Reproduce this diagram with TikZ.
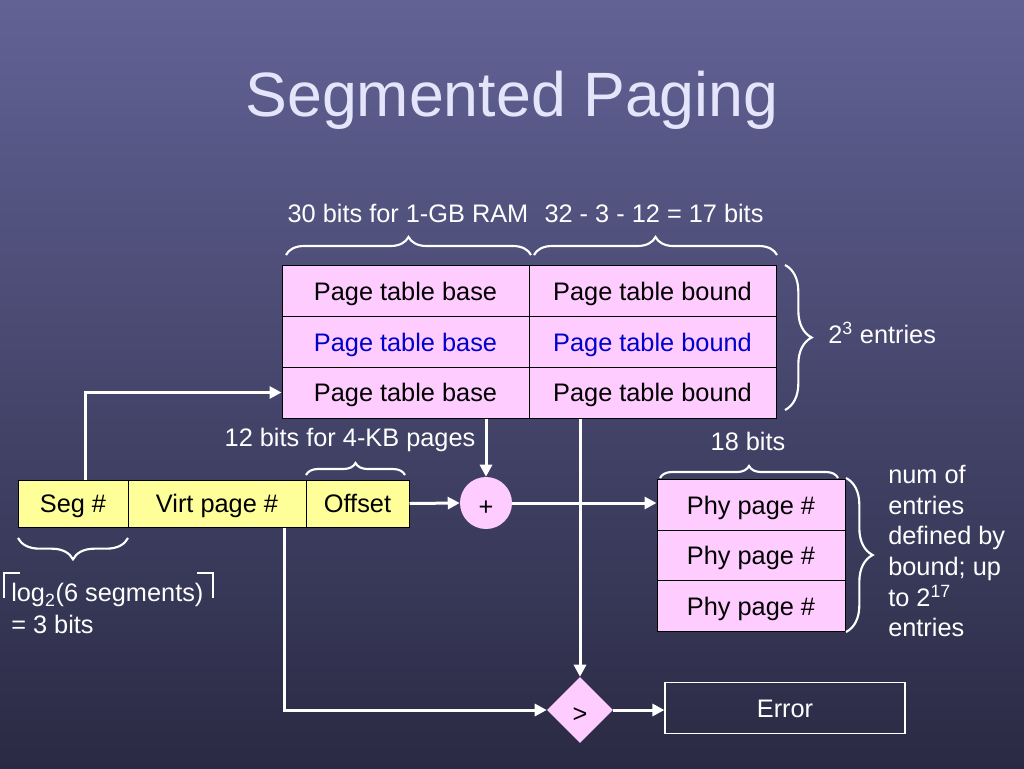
\documentclass[tikz,border=0pt]{standalone}
\usepackage{fontspec}
\setmainfont{Liberation Sans}
\usetikzlibrary{arrows.meta,shapes.geometric,decorations.pathreplacing,calc}

\definecolor{pinkc}{RGB}{255,204,255}
\definecolor{yellowc}{RGB}{255,255,153}
\definecolor{bgtop}{RGB}{98,98,150}
\definecolor{bgbot}{RGB}{42,42,68}
\definecolor{titlec}{RGB}{228,228,250}
\definecolor{bluec}{RGB}{0,0,204}

\begin{document}
\begin{tikzpicture}[x=0.75pt,y=-0.75pt,
  font=\fontsize{19}{23}\selectfont,
  cell/.style={draw=black, line width=0.75pt, fill=pinkc, inner sep=0pt,
    minimum width=185.25pt, minimum height=38.25pt, text height=17.5pt, text depth=4pt},
  addr/.style={draw=black, line width=0.75pt, fill=yellowc, inner sep=0pt,
    minimum height=35.25pt, text height=17.5pt, text depth=4pt},
  phy/.style={draw=black, line width=0.75pt, fill=pinkc, inner sep=0pt,
    minimum width=141pt, minimum height=37.9pt, text height=17.5pt, text depth=4pt},
  lbl/.style={text=white, inner sep=0pt},
  arr/.style={draw=white, line width=2.25pt, -{Triangle[length=9pt,width=9pt]}},
  wbrace/.style={decorate, decoration={brace, amplitude=#1}, draw=white, line width=1.6pt},
  wbracem/.style={decorate, decoration={brace, mirror, amplitude=#1}, draw=white, line width=1.6pt}
]
\useasboundingbox (0,0) rectangle (1024,768);
\shade[top color=bgtop, bottom color=bgbot] (0,0) rectangle (1024,768);

% title
\node[font=\fontsize{47}{56}\selectfont, inner sep=0pt, text=titlec] (title) at (512,100) {Segmented Paging};

% segment table
\node[cell] (b1) at (405.5,291) {Page table base};
\node[cell] (d1) at (652.5,291) {Page table bound};
\node[cell, text=bluec] (b2) at (405.5,342) {Page table base};
\node[cell, text=bluec] (d2) at (652.5,342) {Page table bound};
\node[cell] (b3) at (405.5,392.5) {Page table base};
\node[cell] (d3) at (652.5,392.5) {Page table bound};

% labels above table
\node[lbl] (l30) at (408,213) {30 bits for 1-GB RAM};
\node[lbl] (l17) at (654,213) {32 - 3 - 12 = 17 bits};
\draw[wbrace=13.5pt] (286,255) -- (531,255);
\draw[wbrace=13.5pt] (534,255) -- (777,255);

\draw[wbrace=20pt] (785,265) -- (785,410);
\node[lbl, anchor=west] (l23) at (828,333) {2\textsuperscript{3} entries};

% virtual address
\node[addr, minimum width=82.5pt] (seg) at (73,503.5) {Seg \#};
\node[addr, minimum width=133.5pt] (virt) at (217,503.5) {Virt page \#};
\node[addr, minimum width=77.25pt] (off) at (357.5,503.5) {Offset};

\node[lbl] (l12) at (350,440) {12 bits for 4-KB pages};
\draw[wbrace=9pt] (306,475) -- (405,475);

\draw[wbracem=16pt] (18,538) -- (128,538);
\draw[white, line width=1.6pt] (4,598) -- (4,573) -- (20,573);
\draw[white, line width=1.6pt] (197,573) -- (213,573) -- (213,598);
\node[lbl, anchor=west] (llog) at (11,595) {log\textsubscript{2}(6 segments)};
\node[lbl, anchor=west] (l3b) at (11,624) {= 3 bits};

% adder
\node[circle, fill=pinkc, minimum size=39pt, inner sep=0pt] (plus) at (486,503)
  {\makebox[0pt]{\raisebox{-9pt}[0pt][0pt]{+}}};

% physical page table
\node[phy] (p1) at (751,505) {Phy page \#};
\node[phy] (p2) at (751,555.5) {Phy page \#};
\node[phy] (p3) at (751,606) {Phy page \#};
\node[lbl] (l18) at (748,441) {18 bits};
\draw[wbrace=9pt] (660,478) -- (838,478);
\draw[wbrace=20pt] (846,478) -- (846,632);
\node[lbl, anchor=north west, align=left] (lnum) at (888,465)
  {num of\\entries\\defined by\\bound; up\\to 2\textsuperscript{17}\\entries};

% compare and error
\node[diamond, fill=pinkc, minimum width=49.5pt, minimum height=49.5pt, inner sep=0pt] (gt) at (580,710)
  {\makebox[0pt]{\raisebox{-9.5pt}[0pt][0pt]{>}}};
\node[draw=white, line width=0.9pt, minimum width=180pt, minimum height=38.25pt, inner sep=0pt, text=white,
  text height=17.5pt, text depth=4pt] (err) at (785,708) {Error};

% connectors
\coordinate (segtop) at ($(seg.north)+(12,0)$);
\draw[arr] (segtop) |- (b3.west);
\draw[arr] (plus.north |- b3.south) -- (plus.north);
\draw[arr] (off.east) -- (plus.west);
\draw[arr] (plus.east) -- (plus.east -| p1.west);
\draw[arr] (gt.north |- d3.south) -- (gt.north);
\coordinate (virtbot) at ($(virt.south)+(67,0)$);
\draw[arr] (virtbot) |- (gt.west);
\draw[arr] (gt.east) -- (gt.east -| err.west);
\end{tikzpicture}
\end{document}
